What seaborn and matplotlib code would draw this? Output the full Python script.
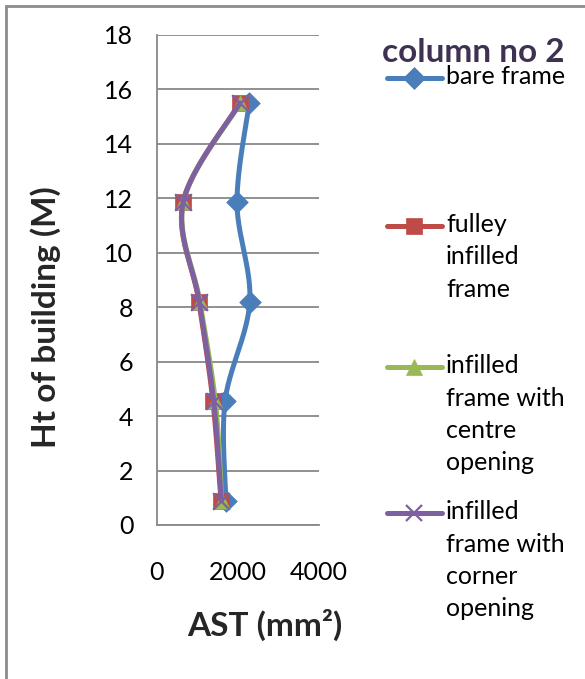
import numpy as np
import pandas as pd
import matplotlib
matplotlib.use("Agg")
import matplotlib.pyplot as plt
import seaborn as sns
from matplotlib.lines import Line2D
from matplotlib.patches import Rectangle

# ---------------- data ----------------
heights = [0.9, 4.55, 8.2, 11.85, 15.5]
bare_frame = [1700, 1680, 2290, 1975, 2280]
fully_infilled = [1580, 1380, 1035, 640, 2050]
centre_opening = [1600, 1440, 1060, 650, 2060]
corner_opening = [1590, 1400, 1045, 645, 2050]

series_names = ["bare frame", "fulley\ninfilled\nframe",
                "infilled\nframe with\ncentre\nopening",
                "infilled\nframe with\ncorner\nopening"]
series_values = [bare_frame, fully_infilled, centre_opening, corner_opening]
x_ticks = [0, 2000, 4000]
y_ticks = [0, 2, 4, 6, 8, 10, 12, 14, 16, 18]
title_text = "column no 2"
x_label = "AST (mm\u00b2)"
y_label = "Ht of building (M)"

# ---------------- style ----------------
colors = ["#4A7EBB", "#BE4B48", "#98B954", "#7D60A0"]
markers = ["D", "s", "^", "x"]
msizes = [11, 12, 11, 12]

sns.set_style("white")
plt.rcParams["font.family"] = ["Lato", "DejaVu Sans"]

W, H, DPI = 585, 679, 100
fig = plt.figure(figsize=(W / DPI, H / DPI), dpi=DPI)
ax = fig.add_axes([157 / W, 1 - 525 / H, (319 - 157) / W, (525 - 35) / H])
ax.set_xlim(0, 4000)
ax.set_ylim(0, 18)


def smooth_curve(xs, ys, n=40):
    """Excel-like smoothed line (Bezier through points), computed in screen space."""
    pts = ax.transData.transform(np.column_stack([xs, ys]))
    out = []
    m = len(pts)
    for i in range(m - 1):
        p0 = pts[i - 1] if i > 0 else pts[i]
        p1 = pts[i]
        p2 = pts[i + 1]
        p3 = pts[i + 2] if i + 2 < m else pts[i + 1]
        c1 = p1 + (p2 - p0) / 6.0
        c2 = p2 - (p3 - p1) / 6.0
        t = np.linspace(0, 1, n)[:, None]
        seg = ((1 - t) ** 3) * p1 + 3 * ((1 - t) ** 2) * t * c1 + 3 * (1 - t) * t ** 2 * c2 + t ** 3 * p2
        out.append(seg if i == 0 else seg[1:])
    out = np.vstack(out)
    return ax.transData.inverted().transform(out)


for k, (name, vals) in enumerate(zip(series_names, series_values)):
    curve = smooth_curve(vals, heights)
    df_curve = pd.DataFrame({"x": curve[:, 0], "y": curve[:, 1]})
    sns.lineplot(data=df_curve, x="x", y="y", sort=False, estimator=None, ax=ax,
                 color=colors[k], linewidth=3.6, zorder=2 + 2 * k)
    df_pts = pd.DataFrame({"x": vals, "y": heights})
    if markers[k] == "x":
        sns.scatterplot(data=df_pts, x="x", y="y", marker="x", s=msizes[k] ** 2,
                        color=colors[k], linewidth=1.6, ax=ax, zorder=3 + 2 * k)
    else:
        sns.scatterplot(data=df_pts, x="x", y="y", marker=markers[k], s=msizes[k] ** 2,
                        color=colors[k], edgecolor=colors[k], linewidth=0.5, ax=ax, zorder=3 + 2 * k)

ax.set_xlim(0, 4000)
ax.set_ylim(0, 18)
ax.set_xticks(x_ticks)
ax.set_yticks(y_ticks)
ax.set_xticklabels([str(v) for v in x_ticks])
ax.set_yticklabels([str(v) for v in y_ticks])
ax.grid(axis="y", color="#888888", linewidth=1.3)
ax.grid(axis="x", visible=False)
ax.set_axisbelow(True)
for s in ["top", "right"]:
    ax.spines[s].set_visible(False)
for s in ["left", "bottom"]:
    ax.spines[s].set_color("#888888")
    ax.spines[s].set_linewidth(1.3)
ax.tick_params(axis="both", direction="out", length=6, width=1.3, color="#888888",
               labelsize=18, labelcolor="black")
ax.tick_params(axis="y", pad=11)
ax.tick_params(axis="x", pad=20)
ax.set_xlabel("")
ax.set_ylabel("")

fig.text(265 / W, 1 - 625 / H, x_label, ha="center", va="center", fontsize=24, fontweight="bold")
fig.text(46 / W, 1 - 317 / H, y_label, ha="center", va="center", rotation=90,
         fontsize=24, fontweight="bold")
fig.text(473 / W, 1 - 62 / H, title_text, ha="center", va="baseline", fontsize=24,
         fontweight="bold", color="#3F3151")

# legend (Excel-style, entries spread down the right side)
entry_y = [78, 226, 367, 513]
for k, name in enumerate(series_names):
    yy = 1 - entry_y[k] / H
    fig.add_artist(Line2D([387 / W, 442 / W], [yy, yy], color=colors[k], linewidth=3.6,
                          transform=fig.transFigure, solid_capstyle="round"))
    fig.add_artist(Line2D([414 / W], [yy], color=colors[k], marker=markers[k],
                          markersize=msizes[k], markeredgewidth=1.6 if markers[k] == "x" else 0.5,
                          transform=fig.transFigure, linestyle="none"))
    fig.text(446 / W, yy + 13 / H, name, ha="left", va="top", fontsize=18,
             linespacing=1.5, color="black")

# chart-area border
fig.add_artist(Rectangle((6 / W, -0.1), 1.2, 1.1 - 6 / H, transform=fig.transFigure,
                         fill=False, edgecolor="#8C8C8C", linewidth=2.0))

fig.savefig("out.png", dpi=DPI)
